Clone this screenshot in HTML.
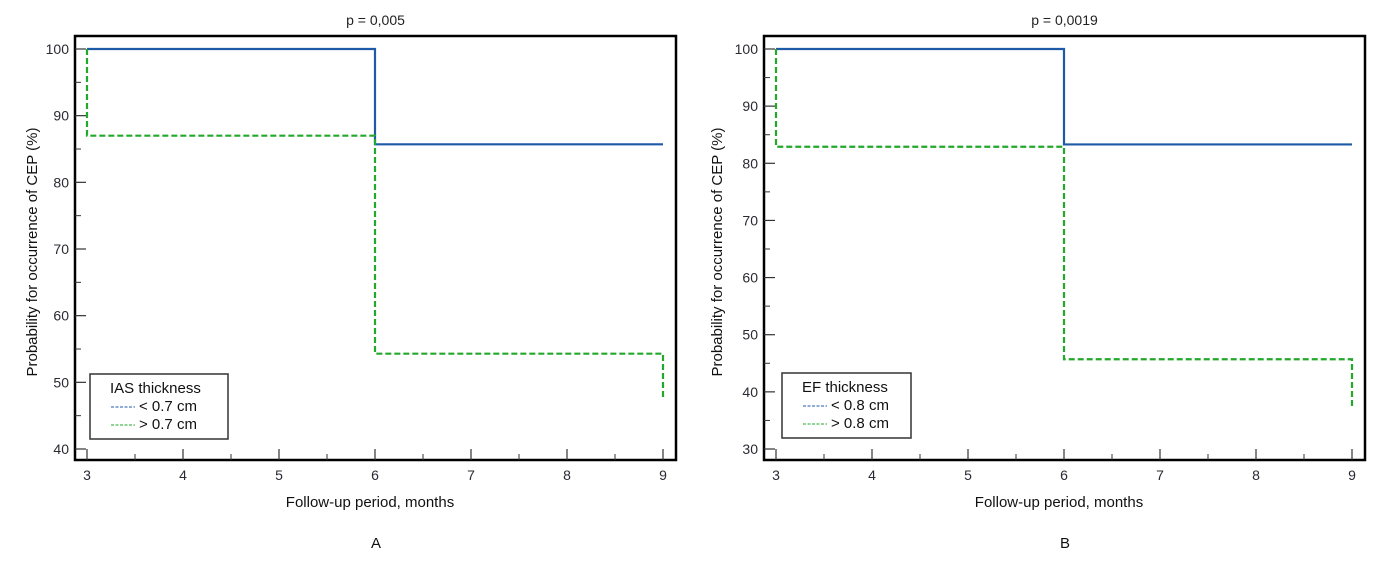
<!DOCTYPE html>
<html><head><meta charset="utf-8"><style>
body{margin:0;background:#fff;width:1384px;height:562px;overflow:hidden}
svg text{font-family:"Liberation Sans",sans-serif}
</style></head><body>
<svg id="s" width="1384" height="562"></svg>
<script>
const xTicks=[3,4,5,6,7,8,9];
const yTicksA=[40,50,60,70,80,90,100];
const yTicksB=[30,40,50,60,70,80,90,100];
const timesA=[3,3,6,9];
const blueA=[100,100,85.7,85.7];
const greenA=[100,87,54.3,47.7];
const blueB=[100,100,83.3,83.3];
const greenB=[100,82.9,45.7,37.3];
const panels=[
 {id:'a',left:75,right:676,x3:87,yMin:40,yMax:100,ticks:yTicksA,blue:blueA,green:greenA,p:'p = 0,005',leg:'IAS thickness',l1:'< 0.7 cm',l2:'> 0.7 cm',lx:90,ly:374,lw:138,label:'A'},
 {id:'b',left:764,right:1365,x3:776,yMin:30,yMax:100,ticks:yTicksB,blue:blueB,green:greenB,p:'p = 0,0019',leg:'EF thickness',l1:'< 0.8 cm',l2:'> 0.8 cm',lx:782,ly:373,lw:129,label:'B'}
];
const svgEl=document.getElementById('s');const NS='http://www.w3.org/2000/svg';
function mk(t,a,par){const e=document.createElementNS(NS,t);for(const k in a)e.setAttribute(k,a[k]);(par||svgEl).appendChild(e);return e;}
const plotTop=36,plotBot=460,y100=49,yLow=449;
panels.forEach(P=>{
 const g=mk('g',{});
 
 
 const sx=v=>P.x3+(v-3)*96;
 const sy=v=>yLow-(v-P.yMin)/(P.yMax-P.yMin)*(yLow-y100);
 const fr=mk('rect',{x:P.left,y:plotTop,width:P.right-P.left,height:plotBot-plotTop,fill:'none',stroke:'#000','stroke-width':2.5},g);
 
 
 const t=mk('text',{x:(P.left+P.right)/2,y:25,'text-anchor':'middle','font-size':14,fill:'#222'},g);t.textContent=P.p;
 
 
 P.ticks.forEach(v=>{
  mk('line',{x1:P.left,x2:P.left+11,y1:sy(v),y2:sy(v),stroke:'#333','stroke-width':1.2},g);
  if(v<P.yMax)mk('line',{x1:P.left,x2:P.left+6,y1:sy(v+5),y2:sy(v+5),stroke:'#333','stroke-width':1},g);
  const tx=mk('text',{x:P.left-6,y:sy(v)+5,'text-anchor':'end','font-size':14,fill:'#2a2a33'},g);tx.textContent=v;
  
  
 });
 xTicks.forEach(v=>{
  mk('line',{x1:sx(v),x2:sx(v),y1:plotBot,y2:plotBot-11,stroke:'#333','stroke-width':1.2},g);
  if(v<9)mk('line',{x1:sx(v+0.5),x2:sx(v+0.5),y1:plotBot,y2:plotBot-6,stroke:'#333','stroke-width':1},g);
  const tx=mk('text',{x:sx(v),y:480,'text-anchor':'middle','font-size':14,fill:'#2a2a33'},g);tx.textContent=v;
  
  
 });
 const xt=mk('text',{x:sx(6)-5,y:507,'text-anchor':'middle','font-size':15,fill:'#111'},g);xt.textContent='Follow-up period, months';
 
 
 const yx=P.id==='a'?37:722;
 const yt=mk('text',{x:yx,y:252,'text-anchor':'middle','font-size':15,fill:'#111',transform:`rotate(-90 ${yx} 252)`},g);yt.textContent='Probability for occurrence of CEP (%)';
 
 
 function step(vals,col,dash,name){
  let d=`M${sx(timesA[0])},${sy(vals[0])}`;
  for(let i=1;i<vals.length;i++){d+=` L${sx(timesA[i])},${sy(vals[i-1])} L${sx(timesA[i])},${sy(vals[i])}`;}
  const p=mk('path',{d,fill:'none',stroke:col,'stroke-width':2.2,'stroke-dasharray':dash},g);
  
  
 }
 step(P.blue,'#1f5aa8','none','series-thin');
 step(P.green,'#22a82a','6 3','series-thick');
 const lg=mk('g',{},g);
 
 
 mk('rect',{x:P.lx,y:P.ly,width:P.lw,height:65,fill:'#fff',stroke:'#333','stroke-width':1.5},lg);
 const lt=mk('text',{x:P.lx+20,y:P.ly+19,'font-size':15,fill:'#111'},lg);lt.textContent=P.leg;
 [[P.l1,'#1f5aa8',37],[P.l2,'#22a82a',55]].forEach(([s,c,dy])=>{
  mk('line',{x1:P.lx+21,x2:P.lx+45,y1:P.ly+dy-4,y2:P.ly+dy-4,stroke:c,'stroke-width':1,'stroke-dasharray':'3 1.5'},lg);
  const e=mk('text',{x:P.lx+49,y:P.ly+dy,'font-size':15,fill:'#111'},lg);e.textContent=s;
  
  
 });
 const lb=mk('text',{x:sx(6)+1,y:548,'text-anchor':'middle','font-size':15,fill:'#111'},g);lb.textContent=P.label;
 
 
});
</script>
</body></html>
